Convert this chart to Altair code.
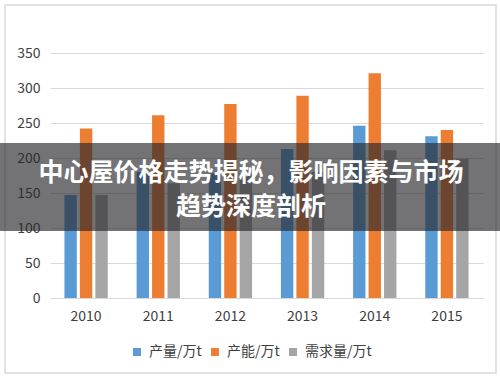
import altair as alt
import pandas as pd

years = ["2010", "2011", "2012", "2013", "2014", "2015"]
series = ["产量/万t", "产能/万t", "需求量/万t"]
production = [147, 180, 178, 213, 246, 231]
capacity = [242, 261, 277, 289, 321, 240]
demand = [147, 164, 178, 180, 211, 199]
colors = ["#5b9bd5", "#ed7d31", "#a5a5a5"]
y_ticks = [0, 50, 100, 150, 200, 250, 300, 350]
title_lines = ["中心屋价格走势揭秘，影响因素与市场", "趋势深度剖析"]

rows = []
for i, yr in enumerate(years):
    for s, vals in zip(series, [production, capacity, demand]):
        rows.append({"year": yr, "series": s, "value": vals[i]})
df = pd.DataFrame(rows)

FONT = "Noto Sans CJK SC"
W, H = 433, 245
one = pd.DataFrame({"a": [0]})

frame = alt.Chart(one).mark_rect(fill=None, stroke="#d9d9d9", strokeWidth=1.5, clip=False).encode(
    x=alt.value(-45), x2=alt.value(446), y=alt.value(-48), y2=alt.value(320)
)

bars = alt.Chart(df).mark_bar().encode(
    x=alt.X("year:N", sort=years,
            scale=alt.Scale(paddingInner=0.4, paddingOuter=0.2),
            axis=alt.Axis(title=None, labelAngle=0, ticks=False, domainColor="#d9d9d9",
                          labelFontSize=14, labelColor="#404040", labelPadding=11,
                          labelFont=FONT, grid=False)),
    xOffset=alt.XOffset("series:N", sort=series, scale=alt.Scale(paddingInner=0.2)),
    y=alt.Y("value:Q", scale=alt.Scale(domain=[0, 350]),
            axis=alt.Axis(title=None, values=y_ticks, ticks=False, domain=False,
                          gridColor="#d9d9d9", labelPadding=10, labelFontSize=14,
                          labelColor="#404040", labelFont=FONT)),
    color=alt.Color("series:N", sort=series,
                    scale=alt.Scale(domain=series, range=colors),
                    legend=alt.Legend(title=None, orient="none", direction="horizontal",
                                      legendX=80, legendY=292, symbolType="square",
                                      symbolSize=64, labelFontSize=14, labelFont=FONT,
                                      labelColor="#404040", columnPadding=6, labelOffset=5,
                                      symbolStrokeWidth=0)),
)

banner = alt.Chart(one).mark_rect(fill="#28282d", opacity=0.65, clip=False).encode(
    x=alt.value(-50), x2=alt.value(450), y=alt.value(90), y2=alt.value(178)
)

t1 = alt.Chart(one).mark_text(font=FONT, fontWeight="bold", fontSize=25, color="white",
                              align="center", baseline="middle").encode(
    x=alt.value(201), y=alt.value(120), text=alt.value(title_lines[0]))
t2 = alt.Chart(one).mark_text(font=FONT, fontWeight="bold", fontSize=25, color="white",
                              align="center", baseline="middle").encode(
    x=alt.value(201), y=alt.value(154), text=alt.value(title_lines[1]))

chart = alt.layer(frame, bars, banner, t1, t2).properties(
    width=W, height=H,
    autosize=alt.AutoSizeParams(type="none"),
    padding={"left": 50, "top": 53, "right": 17, "bottom": 79},
    background="white",
).configure_view(stroke=None)

chart.save("out.html", embed_options={"renderer": "svg", "actions": False})
